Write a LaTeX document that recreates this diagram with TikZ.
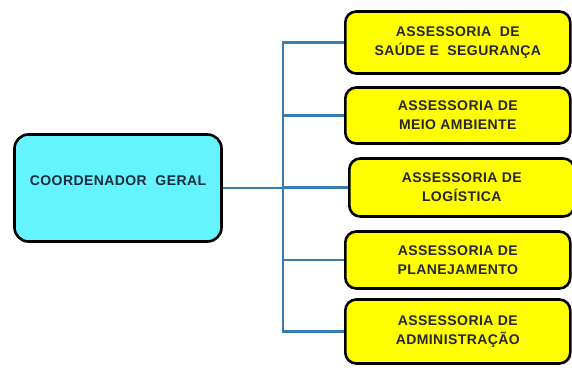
\documentclass[tikz,border=0pt]{standalone}
\usepackage{fontspec}
\setmainfont{Liberation Sans}
\usetikzlibrary{positioning}
\definecolor{aqua}{RGB}{100,244,255}
\definecolor{lemon}{RGB}{255,255,0}
\definecolor{wire}{RGB}{52,125,182}
\definecolor{slate}{RGB}{25,45,62}

\begin{document}
\begin{tikzpicture}[x=1pt,y=-1pt,
    chief/.style={draw,line width=2.6pt,rounded corners=14pt,minimum width=207pt,minimum height=107pt,fill=aqua,text=slate,font=\bfseries\fontsize{14}{16}\selectfont\addfontfeature{LetterSpace=3}},
    adv/.style={draw,line width=2.6pt,rounded corners=11pt,minimum width=225pt,minimum height=58pt,align=center,fill=lemon,text=black!85,font=\bfseries\fontsize{14}{19}\selectfont\addfontfeature{LetterSpace=3},anchor=west},
    link/.style={draw=wire,line width=2.4pt}
  ]
    \useasboundingbox (0,0) rectangle (572,367);

    \node[chief] (coord) at (118,188) {\raisebox{3pt}[0pt][0pt]{COORDENADOR\ \ GERAL}};

    \node[adv,minimum height=62pt] (saude) at (344,42.5) {ASSESSORIA\ \ DE\\SAÚDE E\ \ SEGURANÇA};
    \node[adv,minimum height=56pt] (meio) at (344,115.5) {ASSESSORIA DE\\MEIO AMBIENTE};
    \node[adv] (logist) at (348,187.5) {ASSESSORIA DE\\LOGÍSTICA};
    \node[adv,minimum height=57pt] (plan) at (344,260) {ASSESSORIA DE\\PLANEJAMENTO};
    \node[adv,minimum height=64pt] (admin) at (344,331.5) {ASSESSORIA DE\\ADMINISTRAÇÃO};

    \coordinate (bus) at (283,188);
    \draw[link] (coord.east) -- (bus);
    \foreach \b in {saude,meio,logist,plan,admin}
      \draw[link] (bus) |- (\b.west);
  \end{tikzpicture}
\end{document}
